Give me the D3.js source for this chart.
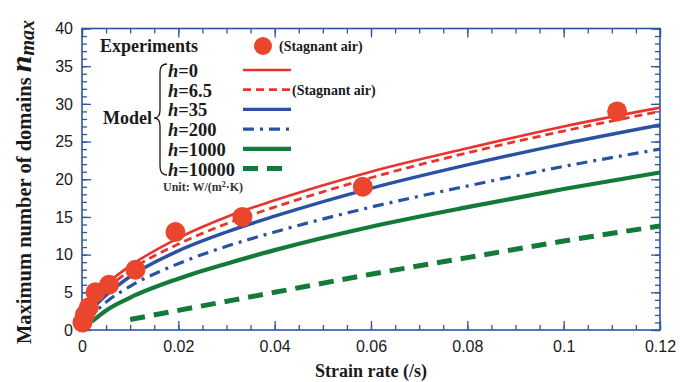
<!DOCTYPE html>
<html><head><meta charset="utf-8">
<script src="https://cdn.jsdelivr.net/npm/d3@7"></script>
<style>body{margin:0;background:#fff}svg{display:block}</style>
</head><body><svg id="c" width="680" height="382"></svg>
<script>
// ---- data ----
const xTicks = [0, 0.02, 0.04, 0.06, 0.08, 0.1, 0.12];
const xTickLabels = ["0", "0.02", "0.04", "0.06", "0.08", "0.1", "0.12"];
const yTicks = [0, 5, 10, 15, 20, 25, 30, 35, 40];
const expX = [0.0001, 0.0006, 0.0014, 0.0028, 0.0056, 0.0111, 0.0194, 0.0333, 0.0583, 0.1111];
const expY = [1, 2, 3, 5, 6, 8, 13, 15, 19, 29];
const h0X = [0.0003, 0.001, 0.002, 0.005, 0.01, 0.02, 0.03, 0.04, 0.06, 0.08, 0.1, 0.12];
const h0Y = [1.0, 2.7, 3.8, 6.0, 8.5, 12.2, 15.0, 17.2, 21.0, 24.1, 27.0, 29.5];
const h65X = [0.0005, 0.002, 0.005, 0.01, 0.02, 0.03, 0.04, 0.06, 0.08, 0.1, 0.12];
const h65Y = [1.3, 3.1, 5.3, 7.9, 11.4, 14.1, 16.3, 20.2, 23.5, 26.4, 29.0];
const h35X = [0.001, 0.002, 0.005, 0.01, 0.02, 0.03, 0.04, 0.06, 0.08, 0.1, 0.12];
const h35Y = [1.6, 2.6, 4.6, 7.1, 10.5, 13.0, 15.1, 18.8, 21.9, 24.7, 27.2];
const h200X = [0.001, 0.002, 0.005, 0.01, 0.02, 0.03, 0.04, 0.06, 0.08, 0.1, 0.12];
const h200Y = [1.2, 1.9, 3.7, 5.8, 8.8, 11.1, 13.0, 16.3, 19.1, 21.7, 24.0];
const h1000X = [0.002, 0.005, 0.01, 0.02, 0.03, 0.04, 0.06, 0.08, 0.1, 0.12];
const h1000Y = [1.1, 2.6, 4.3, 6.8, 8.8, 10.6, 13.7, 16.3, 18.7, 20.9];
const h10000X = [0.01, 0.02, 0.04, 0.06, 0.08, 0.1, 0.12];
const h10000Y = [1.4, 2.6, 5.0, 7.4, 9.6, 11.8, 13.8];

const series = [
  {label: "0", xs: h0X, ys: h0Y, color: "#e8342c", width: 2.6, dash: null},
  {label: "6.5", xs: h65X, ys: h65Y, color: "#e8342c", width: 2.8, dash: "8,5"},
  {label: "35", xs: h35X, ys: h35Y, color: "#2a52a3", width: 3.4, dash: null},
  {label: "200", xs: h200X, ys: h200Y, color: "#2a52a3", width: 3.2, dash: "11,6,3,6"},
  {label: "1000", xs: h1000X, ys: h1000Y, color: "#137a3a", width: 4.2, dash: null},
  {label: "10000", xs: h10000X, ys: h10000Y, color: "#137a3a", width: 5, dash: "15,9"}
];

// ---- chart ----
const svg = d3.select("#c");
const L = 82, R = 660, T = 28.5, B = 330;
const x = d3.scaleLinear().domain([0, 0.12]).range([L, R]);
const y = d3.scaleLinear().domain([0, 40]).range([B, T]);
const frameColor = "#2d55a5";
const serif = "'Liberation Serif','Times New Roman',serif";
const sans = "'Liberation Sans',Arial,sans-serif";

const xMinor = d3.range(0, 0.1201, 0.005);
const yMinor = d3.range(0, 40.01, 1);

function styleAxis(g) {
  g.select(".domain").remove();
  g.selectAll(".tick line").attr("stroke", frameColor).attr("stroke-width", 1.3);
  g.selectAll(".tick text").attr("fill", "#1a1a1a").style("font-family", sans).style("font-size", "16px");
}
// minor ticks
svg.append("g").attr("transform", `translate(0,${B})`).call(d3.axisBottom(x).tickValues(xMinor).tickSize(-5).tickFormat("")).call(styleAxis);
svg.append("g").attr("transform", `translate(0,${T})`).call(d3.axisTop(x).tickValues(xMinor).tickSize(-5).tickFormat("")).call(styleAxis);
svg.append("g").attr("transform", `translate(${L},0)`).call(d3.axisLeft(y).tickValues(yMinor).tickSize(-5).tickFormat("")).call(styleAxis);
svg.append("g").attr("transform", `translate(${R},0)`).call(d3.axisRight(y).tickValues(yMinor).tickSize(-5).tickFormat("")).call(styleAxis);
// major ticks
svg.append("g").attr("transform", `translate(0,${B})`)
  .call(d3.axisBottom(x).tickValues(xTicks).tickSize(-9).tickPadding(11).tickFormat((d, i) => xTickLabels[i])).call(styleAxis);
svg.append("g").attr("transform", `translate(0,${T})`).call(d3.axisTop(x).tickValues(xTicks).tickSize(-9).tickFormat("")).call(styleAxis);
svg.append("g").attr("transform", `translate(${L},0)`)
  .call(d3.axisLeft(y).tickValues(yTicks).tickSize(-9).tickPadding(9).tickFormat(d3.format("d"))).call(styleAxis);
svg.append("g").attr("transform", `translate(${R},0)`).call(d3.axisRight(y).tickValues(yTicks).tickSize(-9).tickFormat("")).call(styleAxis);

svg.append("rect").attr("x", L).attr("y", T).attr("width", R - L).attr("height", B - T)
  .attr("fill", "none").attr("stroke", frameColor).attr("stroke-width", 1.6);

// lines
const line = d3.line().curve(d3.curveMonotoneX);
const plot = svg.append("g");
series.forEach(s => {
  const pts = s.xs.map((v, i) => [x(v), y(s.ys[i])]);
  plot.append("path").attr("d", line(pts)).attr("fill", "none")
    .attr("stroke", s.color).attr("stroke-width", s.width)
    .attr("stroke-dasharray", s.dash);
});
// experiment points
plot.selectAll("circle.exp").data(expX).join("circle").attr("class", "exp")
  .attr("cx", d => x(d)).attr("cy", (d, i) => y(expY[i])).attr("r", 10)
  .attr("fill", "#e9462d");

// axis titles
svg.append("text").attr("x", (L + R) / 2 - 0).attr("y", 377).attr("text-anchor", "middle")
  .style("font-family", serif).style("font-weight", "bold").style("font-size", "18px").attr("fill", "#1a1a1a")
  .text("Strain rate (/s)");
const yt = svg.append("text").attr("transform", "translate(31,344) rotate(-90)")
  .style("font-family", serif).style("font-weight", "bold").style("font-size", "20.5px").attr("fill", "#1a1a1a");
yt.append("tspan").text("Maximum number of domains ");
yt.append("tspan").style("font-style", "italic").style("font-size", "30px").text("n");
yt.append("tspan").style("font-style", "italic").style("font-size", "20px").attr("dy", 3).text("max");

// legend
const lg = svg.append("g").style("font-family", serif).style("font-weight", "bold").attr("fill", "#1a1a1a");
lg.append("text").attr("x", 100).attr("y", 52).style("font-size", "18px").text("Experiments");
lg.append("circle").attr("cx", 263).attr("cy", 46).attr("r", 9).attr("fill", "#e9462d");
lg.append("text").attr("x", 279).attr("y", 51).style("font-size", "14px").text("(Stagnant air)");
lg.append("text").attr("x", 103).attr("y", 124).style("font-size", "18px").text("Model");
lg.append("path").attr("fill", "none").attr("stroke", "#1a1a1a").attr("stroke-width", 1.3)
  .attr("d", "M167,64 Q160,64 160,72 L160,110 Q160,118 154,118 Q160,118 160,126 L160,166 Q160,175 167,175");
series.forEach((s, i) => {
  const base = 77 + i * 19.7;
  const t = lg.append("text").attr("x", 168).attr("y", base).style("font-size", "18.5px");
  t.append("tspan").style("font-style", "italic").text("h");
  t.append("tspan").text("=" + s.label);
  lg.append("line").attr("x1", 243).attr("x2", 291).attr("y1", base - 7).attr("y2", base - 7)
    .attr("stroke", s.color).attr("stroke-width", s.width).attr("stroke-dasharray", s.dash);
});
lg.append("text").attr("x", 292).attr("y", 95).style("font-size", "14px").text("(Stagnant air)");
const ut = lg.append("text").attr("x", 163).attr("y", 191).style("font-size", "12px").attr("fill", "#333");
ut.append("tspan").text("Unit: W/(m");
ut.append("tspan").attr("dy", -4).style("font-size", "8px").text("2");
ut.append("tspan").attr("dy", 4).text("·K)");
</script></body></html>
